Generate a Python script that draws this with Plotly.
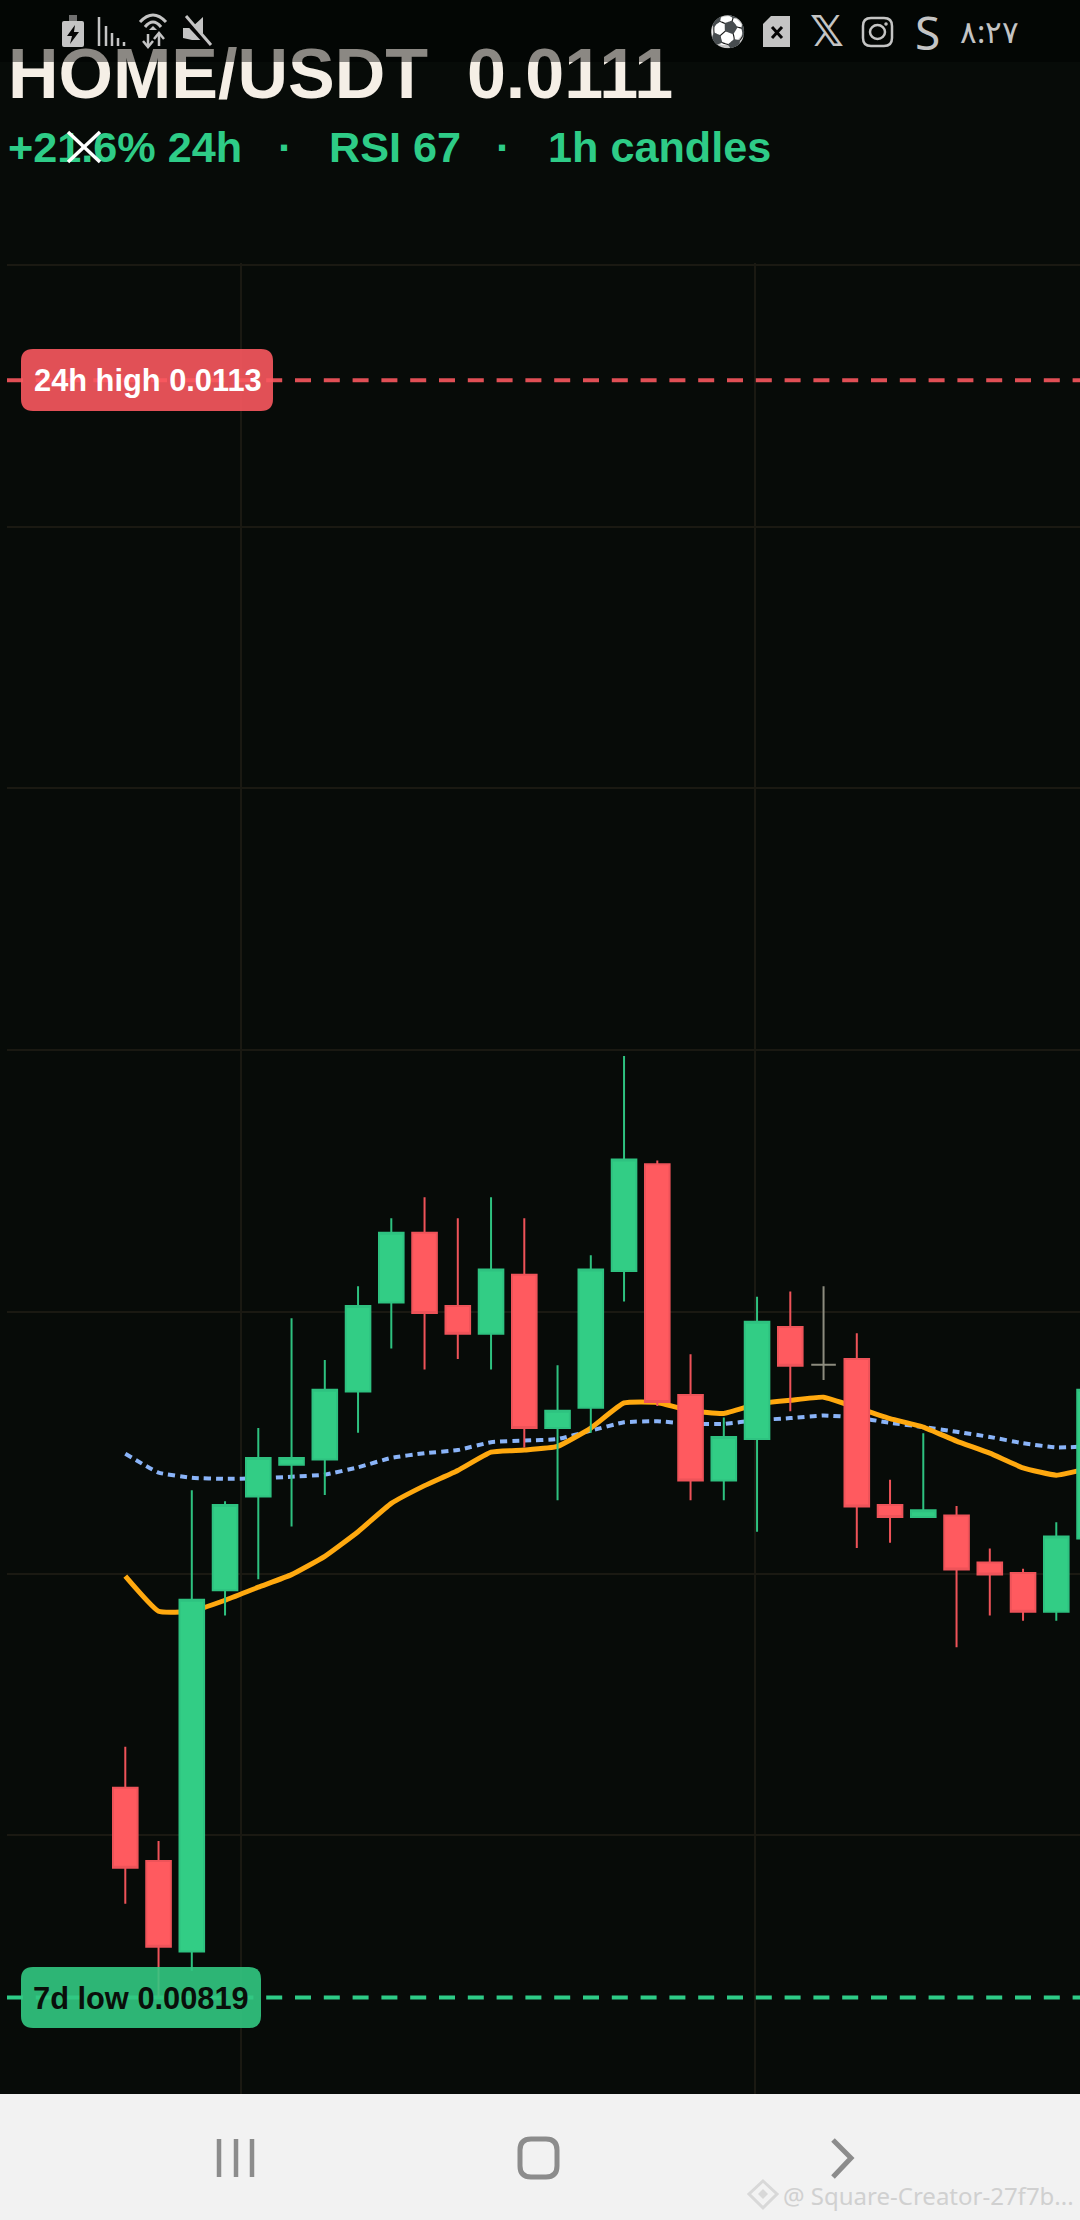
import plotly.graph_objects as go

# 1h candles, x is the candle number
hours = [0, 1, 2, 3, 4, 5, 6, 7, 8, 9, 10, 11, 12, 13, 14, 15, 16, 17, 18, 19, 20, 22, 23, 24, 25, 26, 27, 28, 29]
opens = [0.008591, 0.008451, 0.008278, 0.008968, 0.009147, 0.009208, 0.009218, 0.009348, 0.009518, 0.009651,
         0.009511, 0.009458, 0.009571, 0.009278, 0.009317, 0.009578, 0.009782, 0.009341, 0.009178, 0.009257,
         0.009471, 0.00941, 0.009131, 0.009108, 0.009111, 0.009021, 0.009001, 0.008927, 0.009067]
highs = [0.008669, 0.008489, 0.009159, 0.009138, 0.009278, 0.009488, 0.009408, 0.009549, 0.009679, 0.009719,
         0.009679, 0.009719, 0.009679, 0.009398, 0.009608, 0.009989, 0.009789, 0.009419, 0.009298, 0.009529,
         0.009539, 0.009459, 0.009179, 0.009268, 0.009129, 0.009048, 0.009009, 0.009098, 0.009351]
lows = [0.008369, 0.00819, 0.008241, 0.00892, 0.008989, 0.00909, 0.00915, 0.009269, 0.00943, 0.00939,
        0.00941, 0.00939, 0.009241, 0.00914, 0.009269, 0.00952, 0.00932, 0.00914, 0.00914, 0.00908,
        0.00931, 0.009049, 0.009059, 0.009108, 0.008859, 0.00892, 0.00891, 0.00891, 0.009067]
closes = [0.008438, 0.008287, 0.00895, 0.009131, 0.009221, 0.009221, 0.009351, 0.009511, 0.009651, 0.009498,
          0.009458, 0.009581, 0.009278, 0.009311, 0.009581, 0.009791, 0.009328, 0.009178, 0.009261, 0.009481,
          0.009397, 0.009128, 0.009108, 0.009121, 0.009008, 0.008998, 0.008927, 0.009071, 0.009351]

# the one grey doji
doji_hour = [21]
doji_open = [0.009399]
doji_high = [0.009549]
doji_low = [0.00937]
doji_close = [0.009399]

line_hours = list(range(30))
ema_fast = [0.008995, 0.008928, 0.008928, 0.008949, 0.008974, 0.008998, 0.009033, 0.00908, 0.009134, 0.009168,
            0.009197, 0.009232, 0.009236, 0.009243, 0.009278, 0.009326, 0.009327, 0.009311, 0.009306, 0.009324,
            0.009331, 0.009337, 0.009317, 0.009296, 0.00928, 0.009253, 0.00923, 0.009202, 0.009188, 0.009202]
ema_slow = [0.009229, 0.009193, 0.009183, 0.009181, 0.009182, 0.009185, 0.009189, 0.009203, 0.009221, 0.00923,
            0.009236, 0.009251, 0.009254, 0.009257, 0.009273, 0.009289, 0.009291, 0.009286, 0.009286, 0.009293,
            0.009297, 0.009302, 0.009298, 0.009288, 0.00928, 0.009271, 0.009261, 0.009249, 0.009241, 0.009243]

high_24h = 0.01128
low_7d = 0.00819
price_ticks = [0.0085, 0.009, 0.0095, 0.01, 0.0105, 0.011, 0.0115]
time_ticks = [-3.53, 3.48, 18.95]

W = 1080
H = 2220
X_RANGE = [-3.558, 28.713]
Y_RANGE = [0.008, 0.0115038]
BG = "#070B08"
GREEN = "#32CD85"
RED = "#FF5A5F"
FONT = "Liberation Sans"


def px(x):
    return x / W


def py(y):
    return 1 - y / H


def pth(points, close=False):
    s = "M" + " L".join(f"{px(x):.5f},{py(y):.5f}" for x, y in points)
    return s + (" Z" if close else "")


def rrect(x0, y0, x1, y1, r):
    xa, xb, ya, yb = px(x0), px(x1), py(y0), py(y1)
    rx, ry = r / W, r / H
    return (f"M{xa + rx:.5f},{ya:.5f} L{xb - rx:.5f},{ya:.5f} Q{xb:.5f},{ya:.5f} {xb:.5f},{ya - ry:.5f} "
            f"L{xb:.5f},{yb + ry:.5f} Q{xb:.5f},{yb:.5f} {xb - rx:.5f},{yb:.5f} "
            f"L{xa + rx:.5f},{yb:.5f} Q{xa:.5f},{yb:.5f} {xa:.5f},{yb + ry:.5f} "
            f"L{xa:.5f},{ya - ry:.5f} Q{xa:.5f},{ya:.5f} {xa + rx:.5f},{ya:.5f} Z")


def solid(path, color):
    return dict(type="path", xref="paper", yref="paper", path=path, fillcolor=color, line=dict(width=0), layer="above")


def stroke(path, color, w):
    return dict(type="path", xref="paper", yref="paper", path=path, line=dict(color=color, width=w), layer="above")


def box(x0, y0, x1, y1, color):
    return dict(type="rect", xref="paper", yref="paper", x0=px(x0), x1=px(x1), y0=py(y0), y1=py(y1),
                fillcolor=color, line=dict(width=0), layer="above")


def ring(x0, y0, x1, y1, color, w):
    return dict(type="circle", xref="paper", yref="paper", x0=px(x0), x1=px(x1), y0=py(y0), y1=py(y1),
                line=dict(color=color, width=w), layer="above")


def note(text, x, y, size, color, anchor="left", bold=False, family=FONT):
    return dict(text=text, x=px(x), y=py(y), xref="paper", yref="paper", xanchor=anchor, yanchor="middle",
                showarrow=False, font=dict(family=family, size=size, color=color,
                                           weight="bold" if bold else "normal"))


fig = go.Figure()

# lines go on the base axes so the candles sit on top of them
fig.add_trace(go.Scatter(x=X_RANGE, y=[high_24h, high_24h], mode="lines",
                         line=dict(color="#E04F55", width=4, dash="16px,12.8px")))
fig.add_trace(go.Scatter(x=X_RANGE, y=[low_7d, low_7d], mode="lines",
                         line=dict(color="#2ECC87", width=4, dash="16px,12.8px")))
fig.add_trace(go.Scatter(x=line_hours, y=ema_slow, mode="lines",
                         line=dict(color="#8AB4F8", width=4, dash="7px,5px", shape="spline", smoothing=0.4)))
fig.add_trace(go.Scatter(x=line_hours, y=ema_fast, mode="lines",
                         line=dict(color="#FFA90F", width=5, shape="spline", smoothing=0.4)))

fig.add_trace(go.Candlestick(x=hours, open=opens, high=highs, low=lows, close=closes, xaxis="x2", yaxis="y2",
                             increasing=dict(fillcolor=GREEN, line=dict(color="#2EC280", width=2)),
                             decreasing=dict(fillcolor=RED, line=dict(color="#EE5359", width=2))))
fig.add_trace(go.Candlestick(x=doji_hour, open=doji_open, high=doji_high, low=doji_low, close=doji_close,
                             xaxis="x2", yaxis="y2",
                             increasing=dict(fillcolor="#8C8C7E", line=dict(color="#8C8C7E", width=2)),
                             decreasing=dict(fillcolor="#8C8C7E", line=dict(color="#8C8C7E", width=2))))

# header text is a trace on a page sized axis so the status bar can dim it
fig.add_trace(go.Scatter(x=[8], y=[80], text=["HOME/USDT\u00a0\u00a00.0111"], mode="text", textposition="middle right",
                         xaxis="x3", yaxis="y3",
                         textfont=dict(family=FONT, size=70, color="#F5EFE6", weight="bold")))
fig.add_trace(go.Scatter(x=[8, 278, 329, 496, 548], y=[151, 151, 151, 151, 151],
                         text=["+21.6% 24h", "\u00b7", "RSI 67", "\u00b7", "1h candles"],
                         mode="text", textposition="middle right", xaxis="x3", yaxis="y3",
                         textfont=dict(family=FONT, size=43.2, color="#2ECC87", weight="bold")))

ICON = "#C4C4C4"
shapes = [
    # status bar and close icon
    box(0, 0, W, 62, "rgba(0,0,0,0.43)"),
    stroke(pth([(68, 132), (100, 162)]), "#FFFFFF", 3.5),
    stroke(pth([(100, 132), (68, 162)]), "#FFFFFF", 3.5),
    # price badges
    solid(rrect(21, 349, 273, 411, 12), "rgba(250,88,95,0.9)"),
    solid(rrect(21, 1967, 261, 2028, 12), "rgba(50,200,130,0.9)"),
    # nav bar
    box(0, 2094, W, H, "#F2F2F2"),
    stroke(pth([(219, 2139), (219, 2177)]), "#8C8C8C", 4.5),
    stroke(pth([(236, 2139), (236, 2177)]), "#8C8C8C", 4.5),
    stroke(pth([(252, 2139), (252, 2177)]), "#8C8C8C", 4.5),
    stroke(rrect(520, 2139, 557, 2177, 11), "#8C8C8C", 5),
    stroke(pth([(833, 2140), (851, 2158), (833, 2177)]), "#8C8C8C", 5),
    # watermark mark
    stroke(pth([(763, 2181), (777, 2194), (763, 2208), (749, 2194)], True), "#D8D8D8", 3),
    solid(pth([(763, 2189), (768, 2194), (763, 2199), (758, 2194)], True), "#D8D8D8"),
    # status icons: battery
    box(69, 15, 77, 22, "#707070"),
    solid(rrect(62, 21, 84, 47, 2), ICON),
    solid(pth([(75, 25), (67, 36), (72, 36), (70, 44), (79, 32), (74, 32)], True), "#050505"),
]
# signal bars
for x, top in [(99, 17), (106, 26), (112, 33), (118, 38), (124, 42)]:
    shapes.append(stroke(pth([(x, top), (x, 46)]), ICON, 2.5))
shapes += [
    # wifi and arrows
    stroke("M%.5f,%.5f Q%.5f,%.5f %.5f,%.5f" % (px(140), py(22), px(153), py(8), px(166), py(22)), ICON, 3),
    stroke("M%.5f,%.5f Q%.5f,%.5f %.5f,%.5f" % (px(145), py(27), px(153), py(17), px(161), py(27)), ICON, 3),
    solid(pth([(153, 26), (149, 30), (157, 30)], True), ICON),
    stroke(pth([(148, 34), (148, 46)]), ICON, 2.5),
    stroke(pth([(143, 41), (148, 47), (153, 41)]), ICON, 2.5),
    stroke(pth([(159, 34), (159, 46)]), ICON, 2.5),
    stroke(pth([(154, 39), (159, 33), (164, 39)]), ICON, 2.5),
    # muted speaker
    solid(pth([(183, 28), (191, 28), (203, 17), (203, 40), (192, 40), (183, 38)], True), ICON),
    stroke(pth([(184, 18), (210, 46)]), "#050505", 6),
    stroke(pth([(186, 16), (211, 45)]), ICON, 3),
    # sim
    solid(pth([(763, 24), (771, 16), (790, 16), (790, 47), (763, 47)], True), ICON),
    stroke(pth([(772, 27), (782, 38)]), "#050505", 3),
    stroke(pth([(782, 27), (772, 38)]), "#050505", 3),
    # instagram
    stroke(rrect(863, 18, 892, 46, 8), ICON, 2.5),
    ring(870, 25, 885, 39, ICON, 2.5),
    ring(885, 23, 887, 25, ICON, 1.5),
]

annotations = [
    note("24h high 0.0113", 32, 380, 30.8, "#FFFFFF", bold=True),
    note("7d low 0.00819", 31, 1998, 30.8, "#0A0F0A", bold=True),
    note("@ Square-Creator-27f7b...", 781, 2195, 24, "#D0D0D0", family="Noto Sans"),
    note("\u26bd", 727, 32, 30, ICON, anchor="center", family="DejaVu Sans"),
    note("\U0001d54f", 827, 32, 42, ICON, anchor="center", bold=True, family="DejaVu Sans"),
    note("S", 927, 32, 46, ICON, anchor="center", family="Noto Sans"),
    note("\u0668:\u0662\u0667", 989, 31, 31, ICON, anchor="center", family="Noto Sans"),
]

fig.update_layout(
    width=W,
    height=H,
    margin=dict(l=0, r=0, t=0, b=0),
    paper_bgcolor=BG,
    plot_bgcolor="rgba(0,0,0,0)",
    showlegend=False,
    hovermode=False,
    boxgap=0.26,
    boxgroupgap=0,
    shapes=shapes,
    annotations=annotations,
    xaxis=dict(domain=[7 / W, 1], range=X_RANGE, tickmode="array", tickvals=time_ticks, showticklabels=False,
               ticks="", showgrid=True, gridcolor="#1A1912", gridwidth=1.5, zeroline=False, anchor="y",
               rangeslider=dict(visible=False)),
    yaxis=dict(domain=[123 / H, 1 - 263 / H], range=Y_RANGE, tickmode="array", tickvals=price_ticks,
               showticklabels=False, ticks="", showgrid=True, gridcolor="#1A1912", gridwidth=1.5,
               zeroline=False, anchor="x"),
    xaxis2=dict(overlaying="x", range=X_RANGE, visible=False, anchor="y2", rangeslider=dict(visible=False)),
    yaxis2=dict(overlaying="y", range=Y_RANGE, visible=False, anchor="x2"),
    xaxis3=dict(domain=[0, 1], range=[0, W], visible=False, anchor="y3"),
    yaxis3=dict(domain=[0, 1], range=[H, 0], visible=False, anchor="x3"),
)

fig.write_html("out.html", config=dict(displayModeBar=False), post_script="document.body.style.margin='0';")
